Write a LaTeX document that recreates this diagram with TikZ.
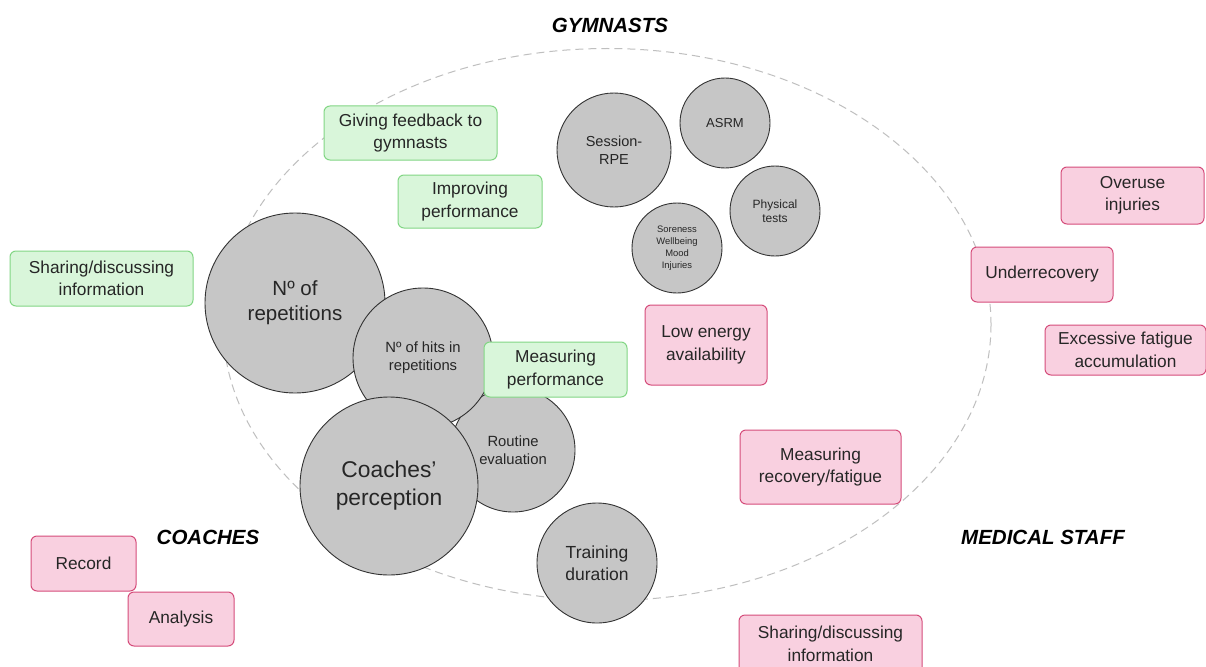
\documentclass[tikz,border=0pt]{standalone}
\usepackage{fontspec}
\setmainfont{Liberation Sans}
\begin{document}
\begin{tikzpicture}[x=1pt,y=-1pt]
\definecolor{riskfill}{HTML}{F9D0E0}
\definecolor{riskline}{HTML}{D54C7A}
\definecolor{goodfill}{HTML}{D9F6DA}
\definecolor{goodline}{HTML}{82D684}
\definecolor{bubblefill}{HTML}{C6C6C6}
\tikzset{
  every node/.style={text=black!85, align=center},
  bubble/.style={circle, draw=black!80, line width=0.9pt, fill=bubblefill, inner sep=0pt},
  tagbox/.style={line width=1pt, rounded corners=6pt, inner sep=0pt, font=\fontsize{17.3}{22.5}\selectfont},
  goodbox/.style={tagbox, draw=goodline, fill=goodfill},
  riskbox/.style={tagbox, draw=riskline, fill=riskfill},
  group/.style={font=\fontsize{20.5}{22}\selectfont\bfseries\itshape, text=black}}
\useasboundingbox (0,0) rectangle (1206,666);
\fill[white] (0,0) rectangle (1206,666);

% dashed outline shared by the three groups
\draw[black!25, dash pattern=on 8pt off 5pt, line width=1pt] (607,324.5) ellipse [x radius=384, y radius=276];

% group titles
\node[group] (gym) at (610,25) {GYMNASTS};
\node[group] (coa) at (208,537) {COACHES};
\node[group] (med) at (1043,537) {MEDICAL STAFF};

% monitoring tools (drawn back to front)
\node[bubble, minimum size=180pt, font=\fontsize{20.5}{25}\selectfont] (rep) at (295,303) {Nº of\\repetitions};
\node[bubble, minimum size=124pt, font=\fontsize{14.8}{18}\selectfont] (rout) at (513,450) {Routine\\evaluation};
\node[bubble, minimum size=140pt, font=\fontsize{14.8}{18}\selectfont] (hits) at (423,358) {Nº of hits in\\repetitions};
\node[bubble, minimum size=178pt, font=\fontsize{22.8}{28}\selectfont] (perc) at (389,486) {Coaches’\\perception};
\node[bubble, minimum size=120pt, font=\fontsize{17.5}{22}\selectfont] (dur) at (597,563) {Training\\duration};
\node[bubble, minimum size=114pt, font=\fontsize{14.5}{18}\selectfont] (rpe) at (614,150) {Session-\\RPE};
\node[bubble, minimum size=90pt, font=\fontsize{13}{15}\selectfont] (asrm) at (725,123) {ASRM};
\node[bubble, minimum size=90pt, font=\fontsize{12}{14.5}\selectfont] (phys) at (775,211) {Physical\\tests};
\node[bubble, minimum size=90pt, font=\fontsize{9.4}{12}\selectfont] (well) at (677,248) {Soreness\\Wellbeing\\Mood\\Injuries};

% purposes
\node[goodbox, minimum width=173pt, minimum height=54pt] (feed) at (410.5,133) {Giving feedback to\\gymnasts};
\node[goodbox, minimum width=144pt, minimum height=53pt] (impr) at (470,201.5) {Improving\\performance};
\node[goodbox, minimum width=183pt, minimum height=55pt] (shl) at (101.5,278.5) {Sharing/discussing\\information};
\node[goodbox, minimum width=143pt, minimum height=55pt] (meas) at (555.5,369.5) {Measuring\\performance};

% risks and other uses
\node[riskbox, minimum width=143pt, minimum height=57pt] (over) at (1132.5,195.5) {Overuse\\injuries};
\node[riskbox, minimum width=142pt, minimum height=55pt] (under) at (1042,274.5) {Underrecovery};
\node[riskbox, minimum width=161pt, minimum height=50pt] (fat) at (1125.5,350) {Excessive fatigue\\accumulation};
\node[riskbox, minimum width=122pt, minimum height=80pt] (lea) at (706,345) {Low energy\\availability};
\node[riskbox, minimum width=161pt, minimum height=74pt] (rec) at (820.5,467) {Measuring\\recovery/fatigue};
\node[riskbox, minimum width=105pt, minimum height=55pt] (reco) at (83.5,563.5) {Record};
\node[riskbox, minimum width=106pt, minimum height=54pt] (ana) at (181,619) {Analysis};
\node[riskbox, minimum width=183pt, minimum height=58pt] (shm) at (830.5,644) {Sharing/discussing\\information};
\end{tikzpicture}
\end{document}
